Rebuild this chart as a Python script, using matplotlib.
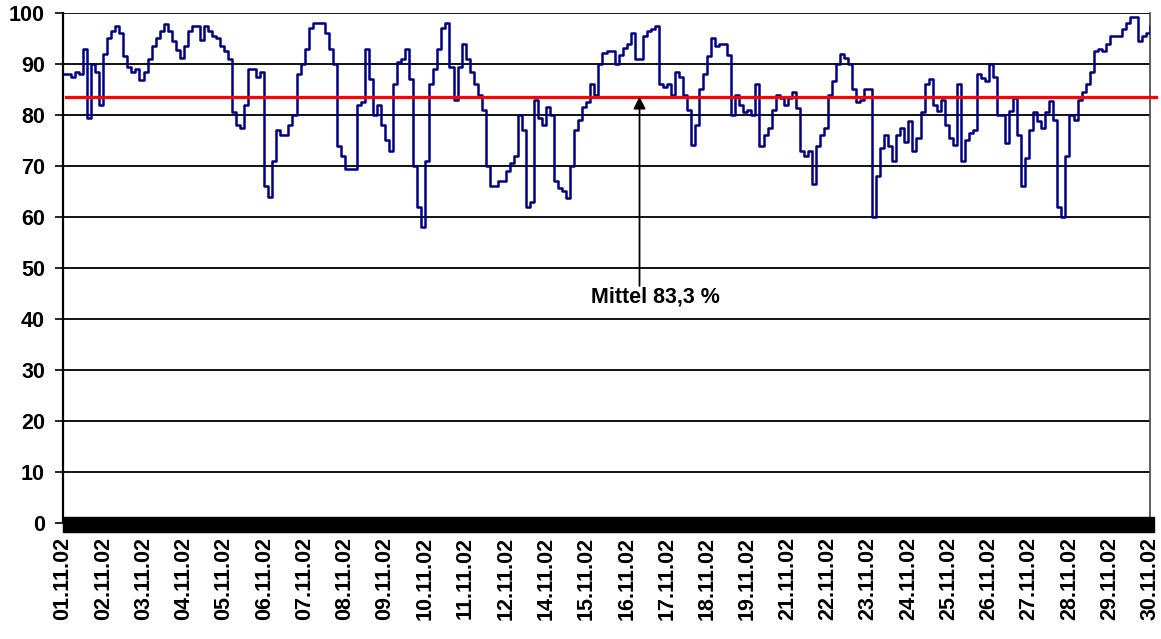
import numpy as np
import matplotlib
matplotlib.use("Agg")
import matplotlib.pyplot as plt
from matplotlib.patches import Rectangle

# Relative humidity readings (%) sampled every 0.1 label interval
humidity = [
    88, 88, 87.5, 88.5, 88, 93, 79.5, 90, 88.5, 82,
    92, 95, 96.5, 97.4, 96, 91.5, 89.5, 88.5, 89, 86.8,
    88.5, 91, 93.5, 95, 96.4, 97.8, 96.5, 94.5, 92.8, 91.2,
    93.5, 96.5, 97.4, 97.4, 94.8, 97.4, 96.5, 95.5, 95, 93.5,
    92.5, 91, 80.5, 78, 77.5, 82, 89, 89, 87.5, 88.5,
    66, 64, 71, 77, 76, 76, 78, 80, 88, 90,
    93, 97, 98, 98, 98, 96, 93, 90, 74, 72,
    69.5, 69.5, 69.5, 82, 82.5, 93, 87, 80, 82, 78,
    75, 73, 86, 90.3, 91, 93, 87, 70, 62, 58,
    71, 86, 89, 93, 97, 98, 89.5, 83, 89.5, 94,
    91, 88.5, 86, 84, 81, 70, 66, 66, 67, 67,
    69, 70.5, 72, 80, 77, 62, 63, 83, 79.5, 78,
    81.5, 80, 67, 65.7, 65, 63.7, 70, 77, 79, 81.5,
    82.5, 86, 84, 90, 92.2, 92.5, 92.5, 90, 91.8, 93.1,
    94, 96, 91, 91, 95.5, 96.4, 96.8, 97.4, 86, 85.5,
    86, 84, 88.5, 87.5, 84, 81, 74.2, 78, 85, 88,
    91.5, 95, 93.5, 94, 94, 91.8, 80, 84, 82, 80.5,
    81, 80, 86, 74, 76, 77.5, 81, 84, 83.3, 82,
    83.3, 84.5, 81.4, 73, 72, 73, 66.5, 74, 76, 77.5,
    84, 86.6, 90, 92, 91.2, 90, 85, 82.5, 83, 85,
    85, 60, 68, 73.5, 76, 74, 71, 76, 77.5, 74.8,
    78.8, 72.9, 75.5, 80.5, 86, 87, 82, 80.7, 83, 78,
    75.5, 74.2, 86, 71, 75, 76.5, 77, 88, 87.2, 86.6,
    90, 87.5, 80, 80, 74.5, 80.7, 83.3, 76, 66, 71.6,
    77, 80.5, 78.8, 77.5, 80.5, 82.7, 79, 62, 60, 72,
    80, 79, 83, 84.5, 86, 88.5, 92.5, 93, 92.5, 94,
    95.4, 95.4, 95.4, 96.8, 98, 99.3, 99.3, 94.5, 95.5, 96,
    97.4,
]
sample_step = 0.1

date_labels = [
    "01.11.02", "02.11.02", "03.11.02", "04.11.02", "05.11.02", "06.11.02",
    "07.11.02", "08.11.02", "09.11.02", "10.11.02", "11.11.02", "12.11.02",
    "14.11.02", "15.11.02", "16.11.02", "17.11.02", "18.11.02", "19.11.02",
    "21.11.02", "22.11.02", "23.11.02", "24.11.02", "25.11.02", "26.11.02",
    "27.11.02", "28.11.02", "29.11.02", "30.11.02",
]
mean_value = 83.5
mean_text = "Mittel 83,3 %"
y_ticks = list(range(0, 101, 10))

plt.rcParams['font.family'] = ['Liberation Sans', 'DejaVu Sans']

fig = plt.figure(figsize=(11.61, 6.39), dpi=100)
ax = fig.add_axes([63 / 1161, 1 - 523 / 639, (1150 - 63) / 1161, (523 - 13) / 639])

t = np.arange(len(humidity)) * sample_step
ax.plot(t, humidity, drawstyle='steps-post', color='#000080', lw=1.8, zorder=3)

ax.set_xlim(0, len(date_labels) - 1)
ax.set_ylim(0, 100)

# grid
for yv in y_ticks[1:]:
    ax.axhline(yv, color='black', lw=1.3, zorder=1)

# mean line
ax.plot([0.08, 27.15], [mean_value, mean_value], color='#ff0000', lw=2.3,
        zorder=4, clip_on=False)

# annotation arrow & text
ax.annotate('', xy=(14.32, 83.6), xytext=(14.32, 46.5),
            arrowprops=dict(arrowstyle='-|>', color='black', lw=1.3,
                            mutation_scale=18, shrinkA=0, shrinkB=0), zorder=5)
ax.text(13.12, 44.4, mean_text, fontsize=15.5, fontweight='bold',
        ha='left', va='center', zorder=5)

# black band at the category axis
ax.add_patch(Rectangle((0, -0.0176), 1.004, 0.0294, transform=ax.transAxes,
                       color='black', clip_on=False, zorder=6))

ax.set_yticks(y_ticks)
ax.set_yticklabels([str(v) for v in y_ticks], fontsize=15.5, fontweight='bold')
ax.tick_params(axis='y', length=6, width=1.2, pad=7, color='black')

ax.set_xticks(range(len(date_labels)))
ax.set_xticklabels(date_labels, rotation=90, fontsize=15.5, fontweight='bold')
ax.tick_params(axis='x', length=0, pad=10)

for s in ['top', 'bottom']:
    ax.spines[s].set_visible(False)
ax.spines['left'].set_linewidth(1.6)
ax.spines['right'].set_linewidth(1.2)
ax.spines['right'].set_color('#444444')

fig.savefig('out.png', dpi=100)
